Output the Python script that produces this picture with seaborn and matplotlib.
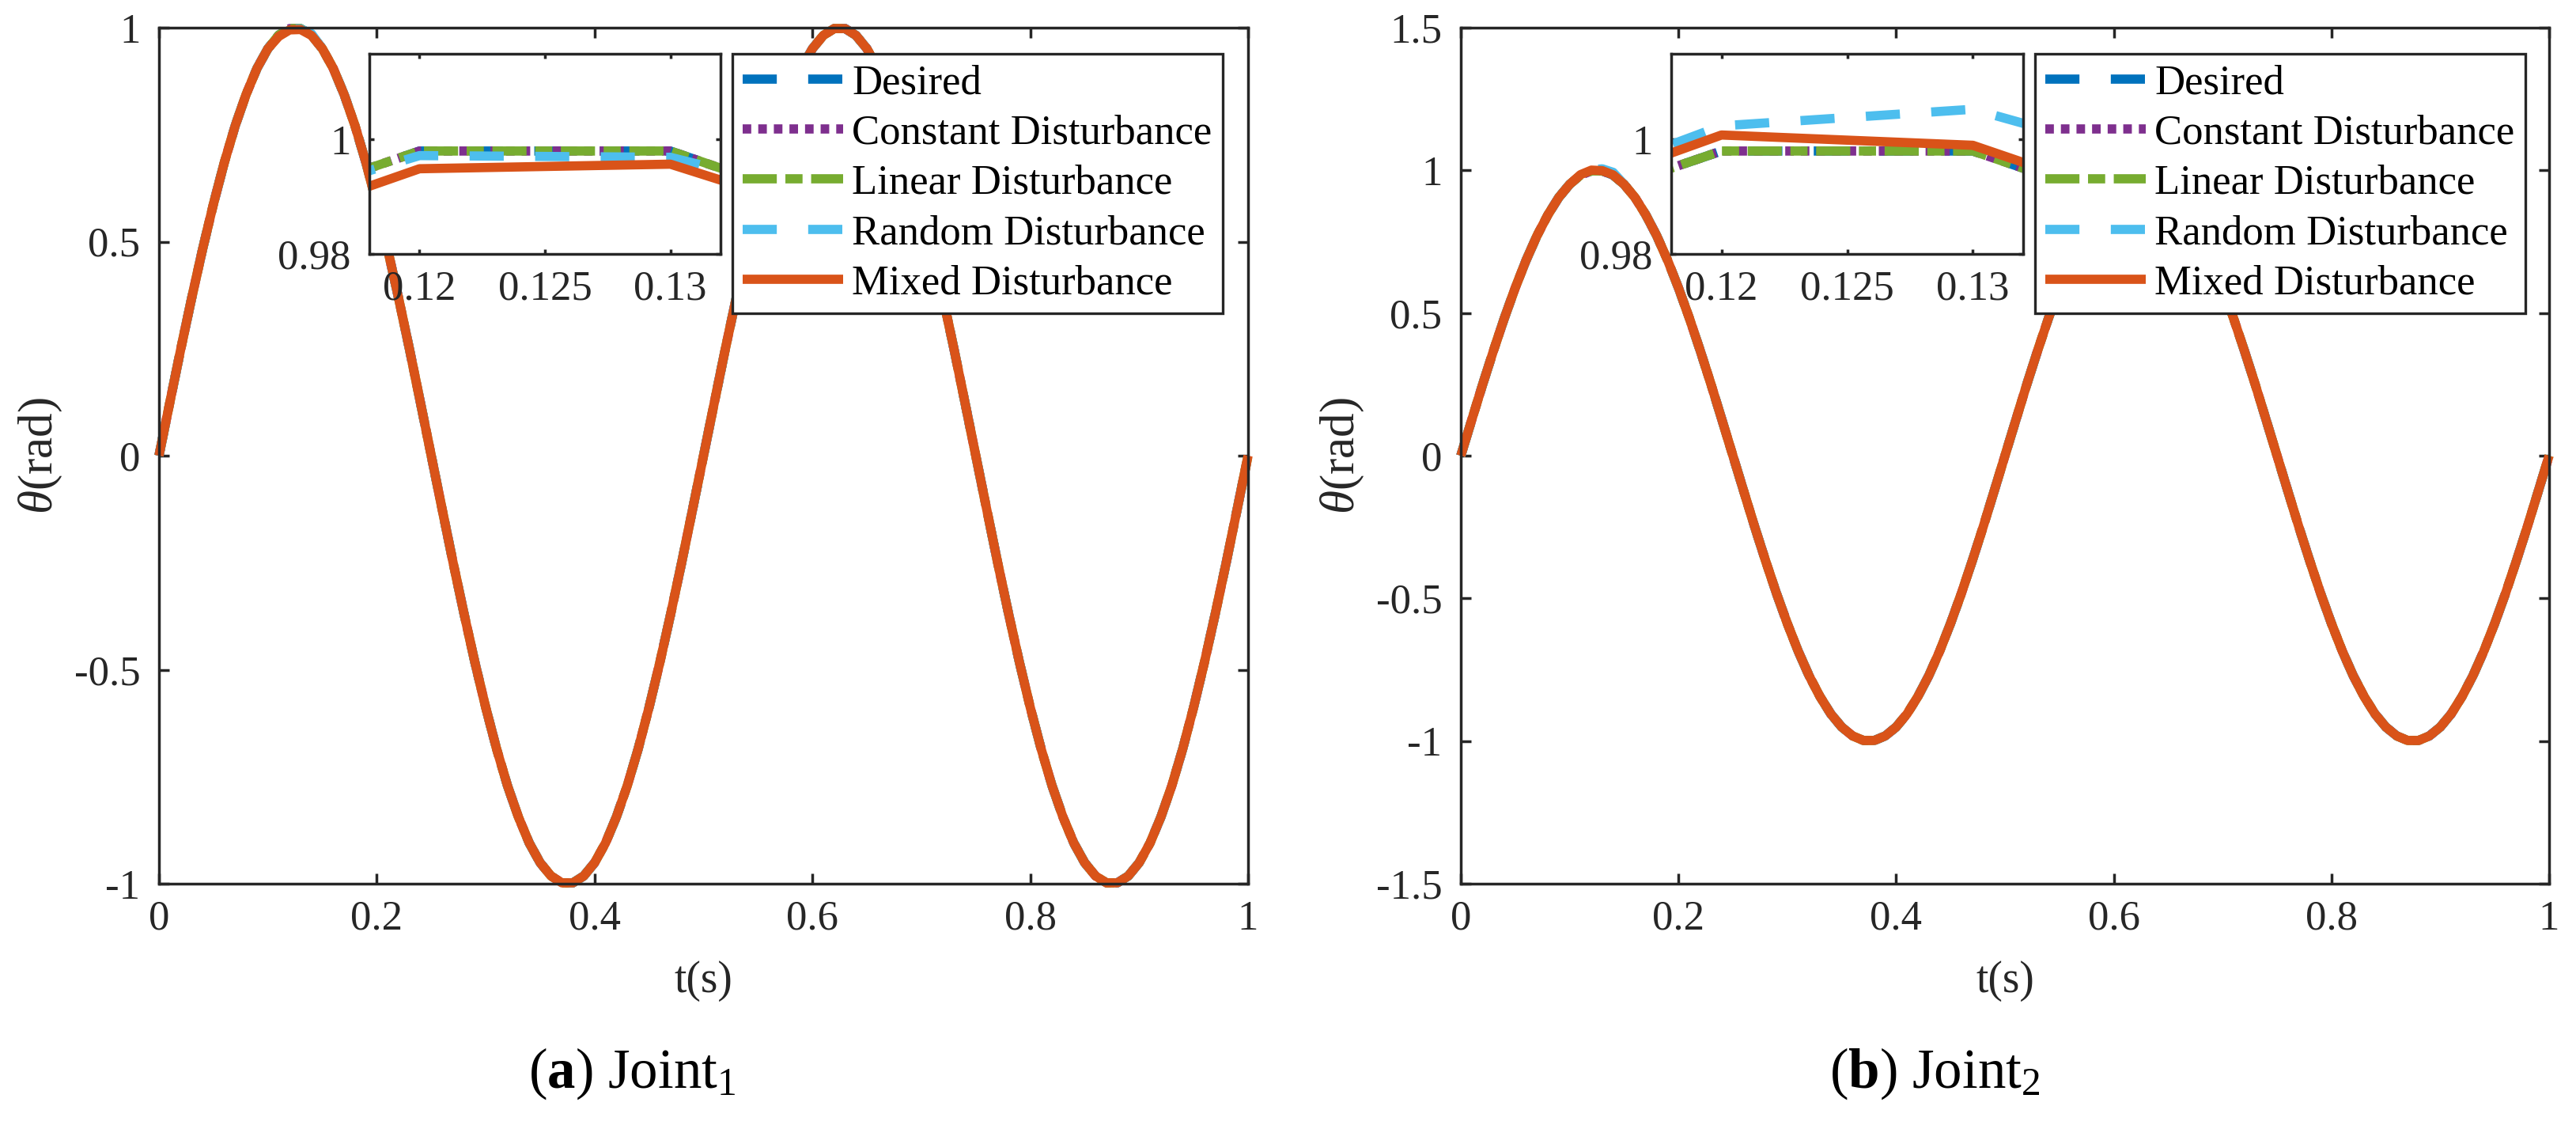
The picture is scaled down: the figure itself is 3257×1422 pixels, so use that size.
import numpy as np
import pandas as pd
import matplotlib
matplotlib.use("Agg")
import matplotlib.pyplot as plt
from matplotlib.ticker import FuncFormatter
import seaborn as sns

# time axis, dt = 0.01 s
t = np.linspace(0, 1, 101)

# desired joint angle
theta_ref = [
    0.000, 0.125, 0.249, 0.368, 0.482, 0.588, 0.685, 0.771, 0.844, 0.905,
    0.951, 0.983, 0.998, 0.998, 0.983, 0.951, 0.905, 0.844, 0.771, 0.685,
    0.588, 0.482, 0.368, 0.249, 0.125, 0.000, -0.125, -0.249, -0.368, -0.482,
    -0.588, -0.685, -0.771, -0.844, -0.905, -0.951, -0.982, -0.998, -0.998, -0.982,
    -0.951, -0.905, -0.844, -0.771, -0.685, -0.588, -0.482, -0.368, -0.249, -0.125,
    0.000, 0.125, 0.249, 0.368, 0.482, 0.588, 0.685, 0.771, 0.844, 0.905,
    0.951, 0.982, 0.998, 0.998, 0.982, 0.951, 0.905, 0.844, 0.771, 0.685,
    0.588, 0.482, 0.368, 0.249, 0.125, 0.000, -0.125, -0.249, -0.368, -0.482,
    -0.588, -0.685, -0.771, -0.844, -0.905, -0.951, -0.982, -0.998, -0.998, -0.982,
    -0.951, -0.905, -0.844, -0.771, -0.685, -0.588, -0.482, -0.368, -0.249, -0.125,
    0.000,
]

# samples t = 0.11, 0.12, 0.13, 0.14
peak_idx = [11, 12, 13, 14]
j1_desired_pk = [0.983, 0.998, 0.998, 0.983]
j1_const_pk = [0.983, 0.998, 0.998, 0.983]
j1_linear_pk = [0.983, 0.998, 0.998, 0.983]
j1_random_pk = [0.984, 0.9972, 0.9969, 0.986]
j1_mixed_pk = [0.9796, 0.9949, 0.9957, 0.9818]

j2_desired_pk = [0.983, 0.998, 0.998, 0.983]
j2_const_pk = [0.983, 0.998, 0.998, 0.983]
j2_linear_pk = [0.983, 0.998, 0.998, 0.983]
j2_random_pk = [0.986, 1.0024, 1.0053, 0.993]
j2_mixed_pk = [0.985, 1.0008, 0.9990, 0.984]

names = ["Desired", "Constant Disturbance", "Linear Disturbance",
         "Random Disturbance", "Mixed Disturbance"]
colors = ["#0072BD", "#7E2F8E", "#77AC30", "#4DBEEE", "#D95319"]
styles = [(0, (3.7, 3.4)), (0, (0.93, 0.76)), (0, (3.7, 0.93, 1.86, 0.93)),
          (0, (3.7, 3.4)), "-"]


def build(peaks):
    cols = {}
    for name, pk in zip(names, peaks):
        y = np.array(theta_ref, dtype=float)
        y[peak_idx] = pk
        cols[name] = y
    return pd.DataFrame(cols, index=t)


joint1 = build([j1_desired_pk, j1_const_pk, j1_linear_pk, j1_random_pk, j1_mixed_pk])
joint2 = build([j2_desired_pk, j2_const_pk, j2_linear_pk, j2_random_pk, j2_mixed_pk])

sns.set_theme(style="white")
plt.rcParams["font.family"] = ["Liberation Serif", "DejaVu Serif"]
plt.rcParams["mathtext.fontset"] = "custom"
plt.rcParams["mathtext.rm"] = "Liberation Serif"
plt.rcParams["mathtext.it"] = "Liberation Serif:italic"
plt.rcParams["mathtext.bf"] = "Liberation Serif:bold"
plt.rcParams["axes.unicode_minus"] = False
plt.rcParams["lines.solid_capstyle"] = "butt"
plt.rcParams["lines.dash_capstyle"] = "butt"

W, H = 3257, 1422
DARK = "#262626"
LW = 8.4
FS = 38


def box(x0, y0, x1, y1):
    return [x0 / W, 1 - y1 / H, (x1 - x0) / W, (y1 - y0) / H]


def style_axes(ax, tick_len):
    for sp in ax.spines.values():
        sp.set_visible(True)
        sp.set_color(DARK)
        sp.set_linewidth(2.5)
    ax.tick_params(direction="in", length=tick_len, width=2.5, color=DARK,
                   labelsize=FS, labelcolor=DARK, top=True, right=True,
                   bottom=True, left=True)
    ax.tick_params(axis="y", pad=17)
    ax.tick_params(axis="x", pad=15)
    fmt = FuncFormatter(lambda v, p: f"{v:g}")
    ax.xaxis.set_major_formatter(fmt)
    ax.yaxis.set_major_formatter(fmt)
    ax.set_facecolor("white")


def draw(ax, df, clip):
    for name, c, ls in zip(names, colors, styles):
        sns.lineplot(x=df.index, y=df[name], ax=ax, color=c, linestyle=ls,
                     linewidth=LW, errorbar=None, legend=False, clip_on=clip)
    ax.set_xlabel("")
    ax.set_ylabel("")


fig = plt.figure(figsize=(W / 100, H / 100), dpi=100)

panels = [
    (joint1, (201, 35, 1578, 1117), (-1, 1), [-1, -0.5, 0, 0.5, 1],
     (467, 68, 911, 321), (926, 68), r"($\mathbf{a}$) Joint$_1$", 799),
    (joint2, (1847, 35, 3223, 1117), (-1.5, 1.5), [-1.5, -1, -0.5, 0, 0.5, 1, 1.5],
     (2113, 68, 2558, 321), (2573, 68), r"($\mathbf{b}$) Joint$_2$", 2446),
]

for df, axbox, ylim, yticks, inbox, legpos, caption, capx in panels:
    ax = fig.add_axes(box(*axbox))
    draw(ax, df, clip=False)
    ax.set_xlim(0, 1)
    ax.set_ylim(*ylim)
    ax.set_xticks([0, 0.2, 0.4, 0.6, 0.8, 1])
    ax.set_yticks(yticks)
    style_axes(ax, 9.4)

    ax.set_xlabel("t(s)", fontsize=40, color=DARK)
    ax.xaxis.set_label_coords(0.5, -(1240 - axbox[3]) / (axbox[3] - axbox[1]))
    ax.xaxis.label.set_verticalalignment("center")
    ax.set_ylabel(r"$\theta$(rad)", fontsize=44, color=DARK)
    ax.yaxis.set_label_coords(-150 / (axbox[2] - axbox[0]), 0.5)
    ax.yaxis.label.set_verticalalignment("center")

    handles = ax.get_lines()[:5]
    leg = ax.legend(handles, names, loc="upper left",
                    bbox_to_anchor=(legpos[0] / W, 1 - legpos[1] / H),
                    bbox_transform=fig.transFigure, borderaxespad=0,
                    fontsize=FS, frameon=True, fancybox=False, framealpha=1,
                    edgecolor=DARK, borderpad=0.25, labelspacing=0.29,
                    handlelength=2.41, handletextpad=0.21)
    leg.get_frame().set_linewidth(2.4)
    for txt in leg.get_texts():
        txt.set_color("black")

    axin = fig.add_axes(box(*inbox))
    draw(axin, df, clip=True)
    axin.set_xlim(0.118, 0.132)
    axin.set_ylim(0.98, 1.015)
    axin.set_xticks([0.12, 0.125, 0.13])
    axin.set_yticks([0.98, 1])
    style_axes(axin, 4)

    fig.text(capx / W, 1 - 1357 / H, caption, fontsize=51, ha="center",
             va="center", color="black")

fig.savefig("out.png", dpi=100)
